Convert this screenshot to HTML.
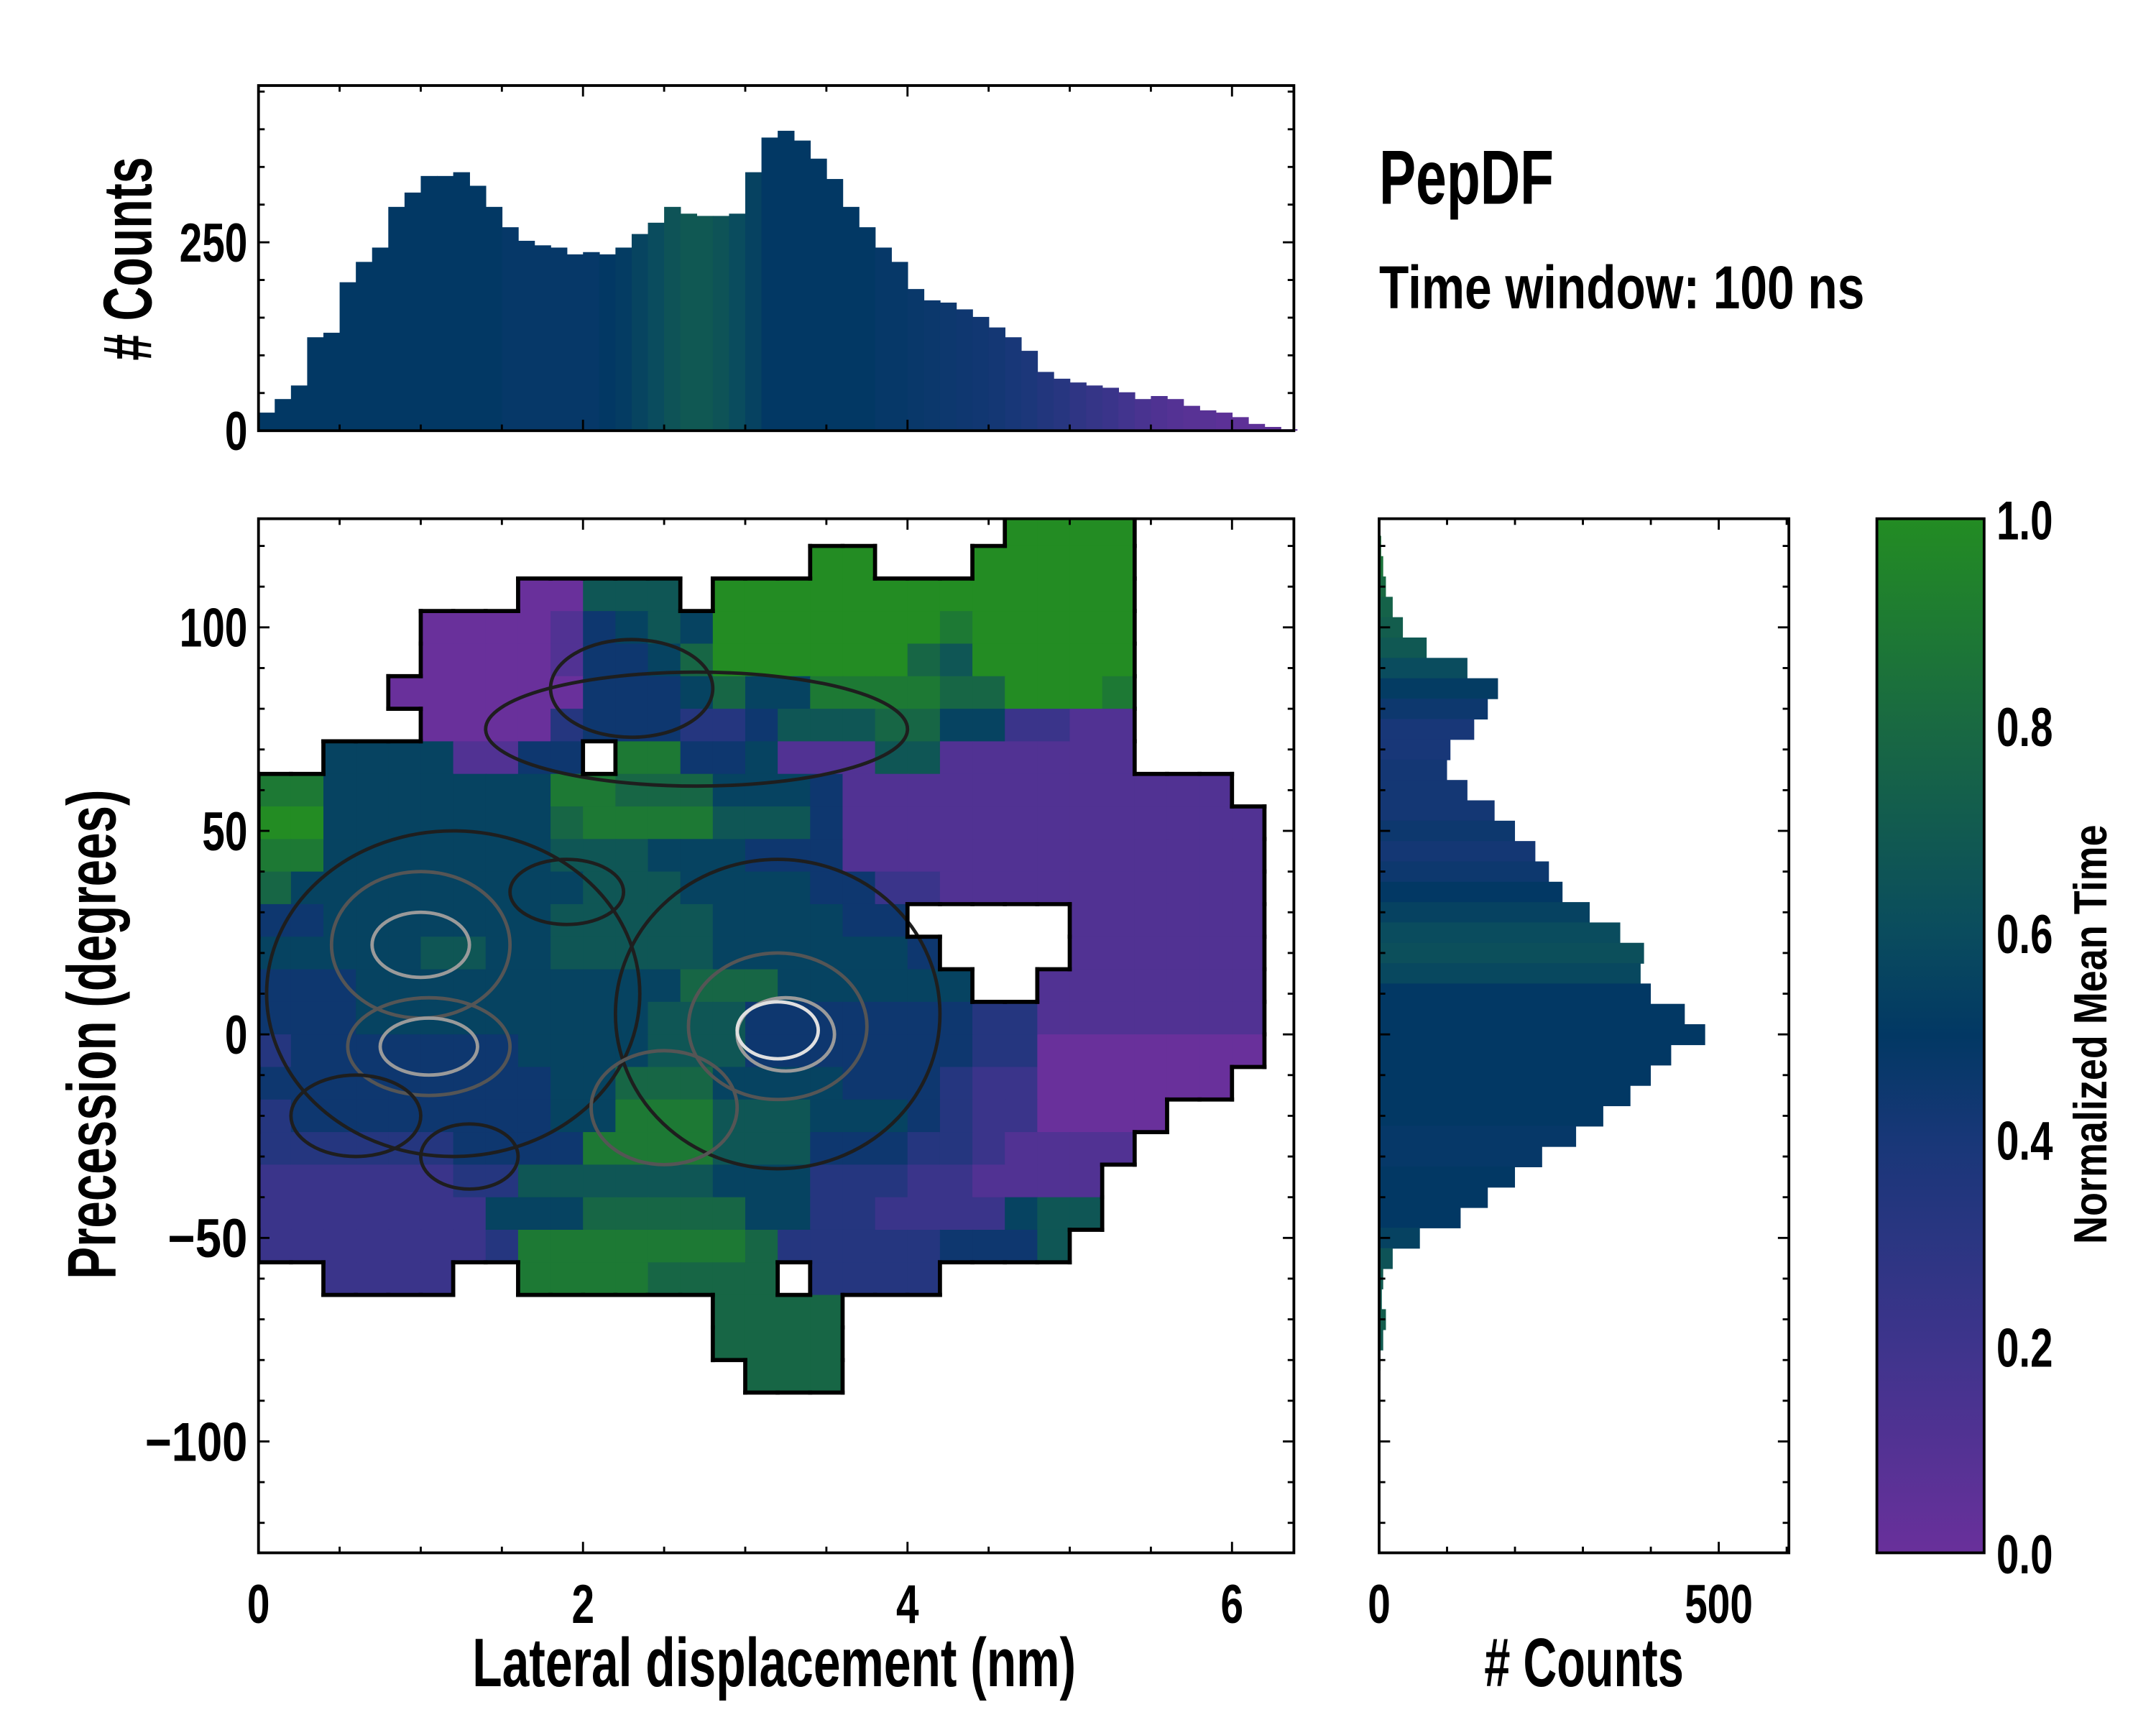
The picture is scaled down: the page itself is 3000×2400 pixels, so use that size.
<!DOCTYPE html>
<html><head><meta charset="utf-8">
<style>html,body{margin:0;padding:0;background:#fff}svg{display:block}
text{font-family:"Liberation Sans Narrow","Liberation Sans",sans-serif;font-weight:bold;fill:#000}</style></head>
<body>
<svg id="fig" width="3000" height="2400" viewBox="0 0 1568 1254" xmlns="http://www.w3.org/2000/svg">
<defs>
<clipPath id="mainclip"><rect x="188" y="377" width="753" height="752"/></clipPath>
<linearGradient id="cbgrad" x1="0" y1="1" x2="0" y2="0">
<stop offset="0" stop-color="rgb(105,48,155)"/><stop offset="0.2" stop-color="rgb(62,52,140)"/>
<stop offset="0.4" stop-color="rgb(24,55,120)"/><stop offset="0.5" stop-color="rgb(2,56,100)"/>
<stop offset="0.6" stop-color="rgb(10,76,94)"/><stop offset="0.8" stop-color="rgb(25,105,66)"/>
<stop offset="1" stop-color="rgb(35,140,35)"/></linearGradient>
</defs>
<g id="heat" clip-path="url(#mainclip)"></g>
<g id="contours" clip-path="url(#mainclip)"></g>
<g id="outline" clip-path="url(#mainclip)"></g>
<g id="tophist"></g>
<g id="righthist"></g>
<g id="axes"></g>
<rect x="1365" y="377" width="78" height="752" fill="url(#cbgrad)" stroke="#000" stroke-width="2"/>

<text x="1003" y="148" font-size="56" textLength="127" lengthAdjust="spacingAndGlyphs">PepDF</text>
<text x="1003" y="224" font-size="44" textLength="353" lengthAdjust="spacingAndGlyphs">Time window: 100 ns</text>
<text x="563" y="1226" font-size="50" text-anchor="middle" textLength="439" lengthAdjust="spacingAndGlyphs">Lateral displacement (nm)</text>
<text transform="translate(84,752) rotate(-90)" font-size="50" text-anchor="middle" textLength="356" lengthAdjust="spacingAndGlyphs">Precession (degrees)</text>
<text transform="translate(110,188) rotate(-90)" font-size="50" text-anchor="middle" textLength="148" lengthAdjust="spacingAndGlyphs"># Counts</text>
<text x="1152" y="1226" font-size="50" text-anchor="middle" textLength="145" lengthAdjust="spacingAndGlyphs"># Counts</text>
<text transform="translate(1532,752) rotate(-90)" font-size="34" text-anchor="middle" textLength="305" lengthAdjust="spacingAndGlyphs">Normalized Mean Time</text>
</svg>
<script>
// ---- data ----
const heatRows = [
".......................9999.....",
"................."+"99"+"..."+"99999"+".....",
"........"+"00"+"666"+"."+"9999999999999"+".....",
"....."+"0000"+"14565"+"9999999"+"8"+"99999"+".....",
"....."+"0000"+"1445"+"7"+"999999"+"76"+"99999"+".....",
"...."+"000000"+"4445755"+"8888779998"+".....",
"....."+"0000"+"3"+"444"+"33"+"4"+"666"+"77"+"55"+"22"+"1"+"1"+".....",
".."+"5555"+"11"+"44"+"."+"88"+"44"+"5"+"111"+"66"+"111111"+".....",
"88"+"5555555"+"88"+"777"+"555"+"4"+"111111111111"+"..",
"99"+"5555555"+"7"+"8888"+"666"+"4"+"1111111111111"+".",
"88"+"5555555"+"666"+"555"+"444"+"1111111111111"+".",
"7"+"555555555"+"666"+"5555"+"44"+"22"+"1111111111"+".",
"44"+"5555555"+"66666"+"5555"+"44"+"....."+"111111"+".",
"55555"+"66"+"55"+"66666"+"555555"+"4"+"...."+"111111"+".",
"444"+"5555555555"+"777"+"555555"+".."+"1111111"+".",
"444"+"555555555"+"666"+"4444444"+"33"+"1111111"+".",
"3"+"4444444"+"5555"+"666"+"4444444"+"33"+"0000000"+".",
"444444444"+"55"+"777"+"5555"+"444"+"3"+"22"+"000000"+"..",
"3"+"44444444"+"55"+"888"+"666"+"555"+"4"+"3"+"22"+"0000"+"....",
"333333"+"4444"+"8888"+"666"+"444"+"33"+"2"+"1111"+".....",
"222222"+"33"+"666666"+"555"+"333"+"22"+"1111"+"......",
"2222222"+"555"+"77777"+"55"+"33"+"2222"+"5"+"66"+"......",
"2222222"+"3"+"8888888"+"7"+"33333"+"444"+"6"+".......",
".."+"2222"+".."+"8888"+"7777"+"."+"3333"+"...........",
".............."+"7777"+"..............",
".............."+"7777"+"..............",
"..............."+"777"+".............."
];
const colStep = 0.2;
const rowTop = 128, rowStep = 8;

const topBins = [0,0.1,0.2,0.3,0.4,0.5,0.6,0.7,0.8,0.9,1.0,1.1,1.2,1.3,1.4,1.5,1.6,1.7,1.8,1.9,2.0,2.1,2.2,2.3,2.4,2.5,2.6,2.7,2.8,2.9,3.0,3.1,3.2,3.3,3.4,3.5,3.6,3.7,3.8,3.9,4.0,4.1,4.2,4.3,4.4,4.5,4.6,4.7,4.8,4.9,5.0,5.1,5.2,5.3,5.4,5.5,5.6,5.7,5.8,5.9,6.0,6.1,6.2,6.3];
const topCounts = [24,42,60,124,130,197,224,243,297,316,338,338,343,325,297,270,252,246,243,234,237,234,243,261,276,297,288,285,285,288,343,389,398,385,361,334,297,270,243,224,188,173,170,161,151,137,124,106,78,69,64,60,57,51,42,46,42,33,27,24,18,9,5,2];
const topTimes = [0.5,0.5,0.5,0.5,0.5,0.5,0.5,0.5,0.5,0.5,0.5,0.5,0.5,0.5,0.5,0.48,0.48,0.48,0.48,0.48,0.48,0.5,0.52,0.56,0.6,0.65,0.68,0.68,0.65,0.6,0.55,0.5,0.5,0.5,0.5,0.5,0.5,0.5,0.48,0.48,0.47,0.46,0.45,0.44,0.43,0.42,0.4,0.38,0.35,0.32,0.28,0.25,0.22,0.18,0.15,0.12,0.1,0.08,0.08,0.06,0.05,0.05,0.05,0.05];

const rightBins = [120,115,110,105,100,95,90,85,80,75,70,65,60,55,50,45,40,35,30,25,20,15,10,5,0,-5,-10,-15,-20,-25,-30,-35,-40,-45,-50,-55,-60,-65,-70,-75,-80];
const rightCounts = [3,6,10,20,35,70,130,175,160,140,105,100,130,170,200,230,250,270,310,355,390,385,400,450,480,430,400,370,330,290,240,200,160,120,60,20,6,4,10,6,2];
const rightTimes = [0.85,0.85,0.8,0.75,0.72,0.68,0.6,0.52,0.45,0.4,0.4,0.42,0.42,0.42,0.45,0.42,0.45,0.5,0.55,0.6,0.62,0.58,0.5,0.5,0.5,0.5,0.5,0.5,0.5,0.48,0.48,0.5,0.5,0.5,0.55,0.65,0.7,0.7,0.72,0.7,0.7];

const contourX = [1.2,3.2,1.0,1.05,3.2,3.25,1.0,1.05,3.2,2.5,2.7,2.3,1.9,0.6,1.3];
const contourY = [10,5,22,-3,2,0,22,-3,1,-18,75,85,35,-20,-30];
const contourRX = [1.15,1.0,0.55,0.5,0.55,0.3,0.3,0.3,0.25,0.45,1.3,0.5,0.35,0.4,0.3];
const contourRY = [40,38,18,12,18,9,8,7,7,14,14,12,8,10,8];
const contourLevel = [0,0,1,1,1,2,2,2,3,1,0,0,0,0,0];

// ---- helpers ----
const NS = "http://www.w3.org/2000/svg";
function mk(tag, attrs, parent){const e=document.createElementNS(NS,tag);for(const k in attrs)e.setAttribute(k,attrs[k]);parent.appendChild(e);return e;}
const stops=[[0,[105,48,155]],[0.2,[62,52,140]],[0.4,[24,55,120]],[0.5,[2,56,100]],[0.6,[10,76,94]],[0.8,[25,105,66]],[1,[35,140,35]]];
function cmap(v){v=Math.max(0,Math.min(1,v));for(let i=1;i<stops.length;i++){if(v<=stops[i][0]){const a=stops[i-1],b=stops[i],t=(v-a[0])/(b[0]-a[0]);return "rgb("+a[1].map((c,k)=>Math.round(c+(b[1][k]-c)*t)).join(",")+")";}}return "rgb(35,140,35)";}
const xs=v=>188+118*v, ys=v=>752-2.96*v, yh=c=>313-0.548*c, xr=c=>1003+0.494*c;

// ---- heatmap ----
const heat=document.getElementById('heat');
const rows=heatRows.map(r=>r.padEnd(32,'.').slice(0,32));
const filled=(j,c)=>j>=0&&j<rows.length&&c>=0&&c<32&&rows[j][c]!=='.';
rows.forEach((r,j)=>{for(let c=0;c<32;c++){const ch=r[c];if(ch==='.')continue;
 const x0=xs(c*colStep),x1=xs((c+1)*colStep),y0=ys(rowTop-j*rowStep),y1=ys(rowTop-(j+1)*rowStep);
 const el=mk('rect',{x:x0,y:y0,width:x1-x0+0.6,height:y1-y0+0.6,fill:cmap(parseInt(ch)/9)},heat);
 
 }});
// outline
const ol=document.getElementById('outline');
rows.forEach((r,j)=>{for(let c=0;c<32;c++){if(!filled(j,c))continue;
 const x0=xs(c*colStep),x1=xs((c+1)*colStep),y0=ys(rowTop-j*rowStep),y1=ys(rowTop-(j+1)*rowStep);
 const segs=[];
 if(!filled(j-1,c))segs.push([x0,y0,x1,y0]);
 if(!filled(j+1,c))segs.push([x0,y1,x1,y1]);
 if(!filled(j,c-1))segs.push([x0,y0,x0,y1]);
 if(!filled(j,c+1))segs.push([x1,y0,x1,y1]);
 segs.forEach(s=>{const l=mk('line',{x1:s[0],y1:s[1],x2:s[2],y2:s[3],stroke:'#000','stroke-width':3,'stroke-linecap':'square'},ol);
 
 });}});
// contours
const cg=document.getElementById('contours');
const lvCol=['#1e1e1e','#555','#9a9a9a','#e0e0e0'];
contourX.forEach((cx,i)=>{const e=mk('ellipse',{cx:xs(cx),cy:ys(contourY[i]),rx:contourRX[i]*118,ry:contourRY[i]*2.96,fill:'none',stroke:lvCol[contourLevel[i]],'stroke-width':2.5},cg);
 
 });

// ---- top histogram ----
const th=document.getElementById('tophist');
topBins.forEach((b,i)=>{const r=mk('rect',{x:xs(b),y:yh(topCounts[i]),width:118*0.1+0.4,height:313-yh(topCounts[i]),fill:cmap(topTimes[i])},th);
 
 });
// ---- right histogram ----
const rh=document.getElementById('righthist');
rightBins.forEach((b,i)=>{const y0=ys(b+2.5),y1=ys(b-2.5);const r=mk('rect',{x:1003,y:y0,width:xr(rightCounts[i])-1003,height:y1-y0+0.4,fill:cmap(rightTimes[i])},rh);
 
 });

// ---- axes ----
const ax=document.getElementById('axes');
function frame(x,y,w,h,name){const r=mk('rect',{x:x,y:y,width:w,height:h,fill:'none',stroke:'#000','stroke-width':2},ax);
 
 }
function tick(x1,y1,x2,y2){mk('line',{x1:x1,y1:y1,x2:x2,y2:y2,stroke:'#000','stroke-width':1.5},ax);}
function label(x,y,t,anchor){let w=0;for(const ch of t){w+=(ch==='.')?8:(ch==='\u2212'?25:16.5);}
 const e=mk('text',{x:x,y:y,'text-anchor':anchor,'font-size':40,textLength:w,lengthAdjust:'spacingAndGlyphs'},ax);e.textContent=t;
 
 }
frame(188,62,753,251,'top-hist-frame');frame(188,377,753,752,'main-frame');frame(1003,377,298,752,'right-hist-frame');
for(let v=0;v<=6.3;v+=0.5){const X=xs(v),maj=Math.abs(v%2)<1e-6;const L=maj?8:4.5;
 tick(X,1129,X,1129-L);tick(X,377,X,377+L);tick(X,313,X,313-L);tick(X,62,X,62+L);}
[0,2,4,6].forEach(v=>label(xs(v),1180,String(v),'middle'));
for(let v=-120;v<=120;v+=10){const Y=ys(v),maj=v%50===0;const L=maj?8:4.5;
 tick(188,Y,188+L,Y);tick(941,Y,941-L,Y);tick(1003,Y,1003+L,Y);tick(1301,Y,1301-L,Y);}
[100,50,0,-50,-100].forEach(v=>label(180,ys(v)+14,v<0?'\u2212'+(-v):String(v),'end'));
for(let c=0;c<=450;c+=50){const Y=yh(c),maj=c%250===0;const L=maj?8:4.5;tick(188,Y,188+L,Y);tick(941,Y,941-L,Y);}
label(180,yh(250)+14,'250','end');label(180,yh(0)+14,'0','end');
for(let c=0;c<=600;c+=100){const X=xr(c),maj=c%500===0;const L=maj?8:4.5;tick(X,1129,X,1129-L);tick(X,377,X,377+L);}
label(1003,1180,'0','middle');label(1250,1180,'500','middle');
for(let i=0;i<=20;i++){const v=i*0.05,Y=1129-752*v,maj=i%4===0;tick(1443,Y,1443-(maj?12:7),Y);}
for(let i=0;i<=5;i++){const v=i*0.2;label(1452,1129-752*v+15,v.toFixed(1),'start');}
</script>
</body></html>
